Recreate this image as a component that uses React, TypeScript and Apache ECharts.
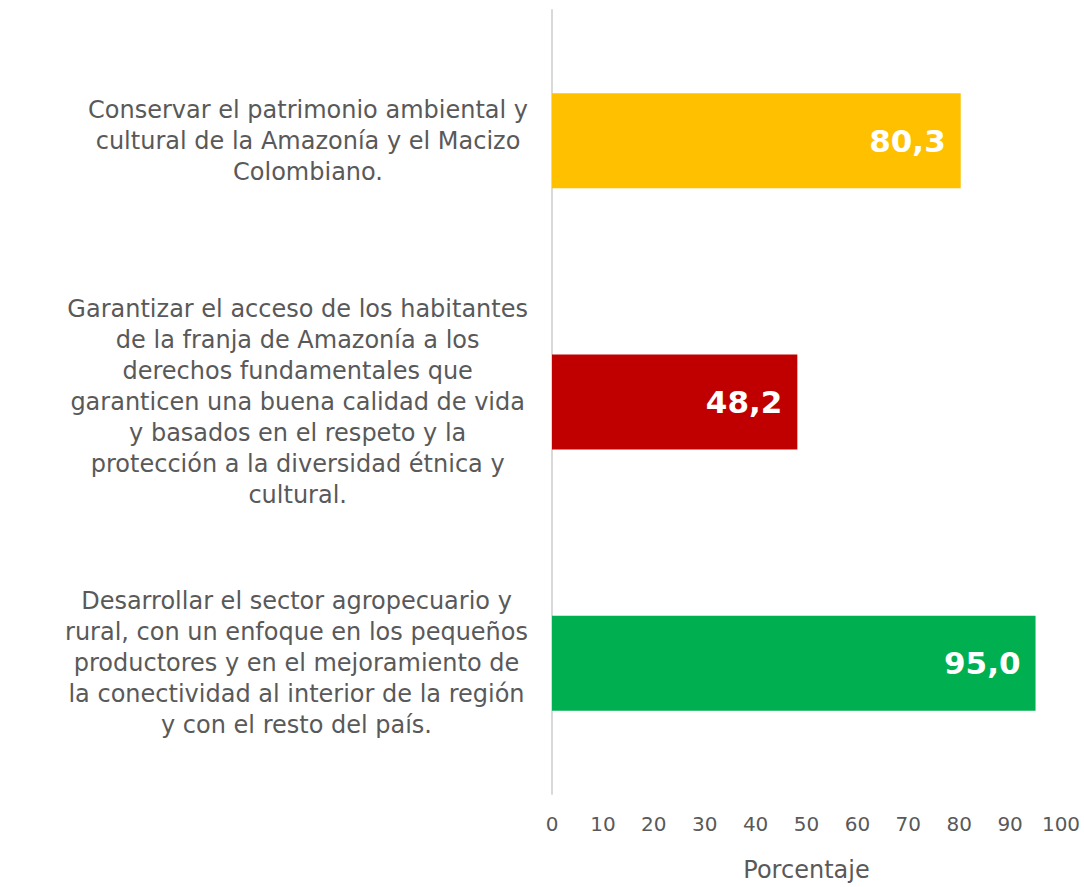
import React, { useEffect, useRef } from "react";
import * as echarts from "echarts";

const categories = [
  "Conservar el patrimonio ambiental y\ncultural de la Amazonía y el Macizo\nColombiano.",
  "Garantizar el acceso de los habitantes\nde la franja de Amazonía a los\nderechos fundamentales que\ngaranticen una buena calidad de vida\ny basados en el respeto y la\nprotección a la diversidad étnica y\ncultural.",
  "Desarrollar el sector agropecuario y\nrural, con un enfoque en los pequeños\nproductores y en el mejoramiento de\nla conectividad al interior de la región\ny con el resto del país.",
];
const values = [80.3, 48.2, 95.0];
const barColors = ["#FFC000", "#C00000", "#00B050"];
const xAxisName = "Porcentaje";

const FONT = "'DejaVu Sans', sans-serif";
const GRAY = "#595959";

export default function App() {
  const ref = useRef<HTMLDivElement>(null);
  useEffect(() => {
    if (!ref.current) return;
    const chart = echarts.init(ref.current, undefined, { renderer: "svg" });
    chart.setOption({
      animation: false,
      backgroundColor: "#ffffff",
      grid: { left: 552, right: 23, top: 10, bottom: 92, containLabel: false },
      xAxis: {
        type: "value",
        min: 0,
        max: 100,
        interval: 10,
        name: xAxisName,
        nameLocation: "middle",
        nameGap: 64,
        nameTextStyle: { fontFamily: FONT, fontSize: 24, color: GRAY, verticalAlign: "top" },
        axisLine: { show: false },
        axisTick: { show: false },
        splitLine: { show: false },
        axisLabel: { fontFamily: FONT, fontSize: 20, color: GRAY, margin: 20 },
      },
      yAxis: {
        type: "category",
        inverse: true,
        data: categories,
        axisLine: { show: true, lineStyle: { color: "#D9D9D9", width: 2 } },
        axisTick: { show: false },
        axisLabel: {
          margin: 24,
          align: "right",
          fontFamily: FONT,
          fontSize: 24,
          color: GRAY,
          lineHeight: 31,
          formatter: (v: string) =>
            v
              .split("\n")
              .map((l) => `{c|${l}}`)
              .join("\n"),
          rich: {
            c: { align: "center", fontFamily: FONT, fontSize: 24, color: GRAY, lineHeight: 31 },
          },
        },
      },
      series: [
        {
          type: "bar",
          barWidth: 95,
          data: values.map((v, i) => ({ value: v, itemStyle: { color: barColors[i] } })),
          label: {
            show: true,
            position: "insideRight",
            distance: 15,
            fontFamily: FONT,
            fontSize: 31,
            fontWeight: "bold",
            color: "#ffffff",
            formatter: (p: any) => p.value.toFixed(1).replace(".", ","),
          },
        },
      ],
    });
    return () => chart.dispose();
  }, []);
  return (
    <div
      ref={ref}
      style={{ position: "fixed", left: 0, top: 0, width: 1084, height: 887 }}
    />
  );
}
